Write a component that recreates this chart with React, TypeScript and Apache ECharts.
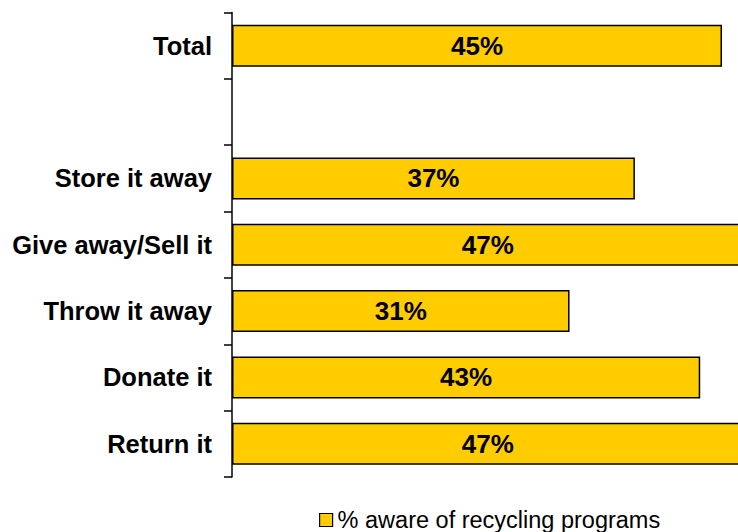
import React, { useEffect, useRef } from "react";
import * as echarts from "echarts";

const categories = ["Total", "", "Store it away", "Give away/Sell it", "Throw it away", "Donate it", "Return it"];
const awareValues: (number | null)[] = [45, null, 37, 47, 31, 43, 47];
const seriesName = "% aware of recycling programs";

export default function App() {
  const ref = useRef<HTMLDivElement>(null);
  useEffect(() => {
    if (!ref.current) return;
    const chart = echarts.init(ref.current, null, { renderer: "svg" });
    const font = "'Liberation Sans', Arial, Helvetica, sans-serif";
    chart.setOption({
      animation: false,
      backgroundColor: "#ffffff",
      textStyle: { fontFamily: font },
      grid: { left: 232, top: 12.5, right: 0, height: 464.5, containLabel: false },
      legend: {
        data: [seriesName],
        left: 314,
        top: 503,
        icon: "rect",
        itemWidth: 13,
        itemHeight: 13,
        itemGap: 8,
        textStyle: { fontFamily: font, fontSize: 23.5, color: "#000" },
        itemStyle: { borderColor: "#000", borderWidth: 1.2 },
      },
      xAxis: {
        type: "value",
        min: 0,
        max: 46.47,
        show: false,
        splitLine: { show: false },
      },
      yAxis: {
        type: "category",
        data: categories,
        inverse: true,
        axisLine: { show: true, lineStyle: { color: "#000", width: 1.5 } },
        axisTick: { show: true, inside: false, length: 8, alignWithLabel: false, lineStyle: { color: "#000", width: 1.5 } },
        axisLabel: { margin: 20, fontFamily: font, fontSize: 25.5, fontWeight: "bold", color: "#000" },
      },
      series: [
        {
          name: seriesName,
          type: "bar",
          data: awareValues,
          barWidth: 42,
          clip: false,
          itemStyle: { color: "#FFCC00", borderColor: "#000", borderWidth: 1.5 },
          label: {
            show: true,
            position: "inside",
            formatter: "{c}%",
            fontFamily: font,
            fontSize: 26,
            fontWeight: "bold",
            color: "#000",
          },
        },
      ],
    });
    return () => chart.dispose();
  }, []);
  return <div ref={ref} style={{ position: "fixed", left: 0, top: 0, width: 738, height: 532 }} />;
}
